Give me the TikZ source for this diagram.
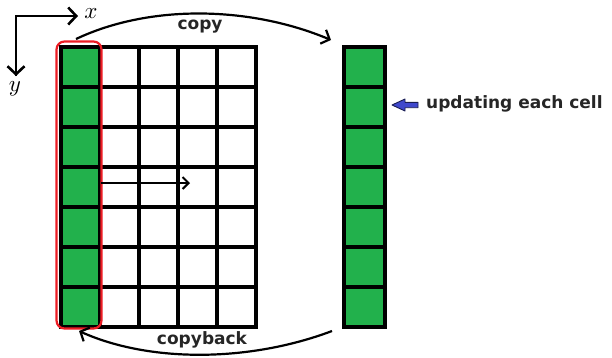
\documentclass[tikz,border=0pt]{standalone}
\usepackage{fontspec}
\usepackage{graphicx}
\setsansfont{DejaVu Sans}
\usetikzlibrary{arrows.meta}
\definecolor{cellgreen}{RGB}{34,177,76}
\definecolor{arrblue}{RGB}{63,72,204}
\definecolor{hlred}{RGB}{237,28,36}
\tikzset{
  cellbox/.style={draw=black, line width=3.8pt, minimum width=39pt, minimum height=40pt, inner sep=0pt, anchor=north west},
  greencell/.style={cellbox, fill=cellgreen},
  whitecell/.style={cellbox, fill=white},
  lbl/.style={font=\sffamily\bfseries\fontsize{17}{17}\selectfont, text=black!85, inner sep=0pt},
  conn/.style={line width=2.2pt, -{Straight Barb[length=7pt,width=15pt,line width=2.2pt]}},
  axis/.style={line width=2.6pt, -{Straight Barb[length=8pt,width=17pt,line width=2.6pt]}},
  axlbl/.style={inner sep=0pt}
}
\begin{document}
\begin{tikzpicture}[x=1pt,y=-1pt]
\useasboundingbox (0,0) rectangle (612,357);
% grid
\foreach \r in {0,...,6} {
  \node[greencell] (g\r) at (59,{45+40*\r}) {};
  \foreach \c in {1,...,4} {
    \node[whitecell] (w\r\c) at ({59+39*\c},{45+40*\r}) {};
  }
  \node[greencell, minimum width=41pt] (b\r) at (342,{45+40*\r}) {};
}
% red highlight
\node[draw=hlred, line width=2.2pt, rounded corners=8pt, minimum width=45pt, minimum height=287pt, inner sep=0pt] (hl) at (79,185) {};
% axes
\coordinate (o) at (16,16);
\coordinate (ox) at (78,16);
\coordinate (oy) at (16,76);
\draw[axis, line join=miter] (oy) -- (o) -- (ox);
\draw[axis] (o) -- (oy);
\node[axlbl] (xl) at (91,14) {\scalebox{2.3}{$x$}};
\node[axlbl] (yl) at (15,89) {\scalebox{2.3}{$y$}};
% copy arrows
\coordinate (cs) at (76,39);
\coordinate (ce) at (331,40);
\draw[conn] (cs) .. controls (150,4) and (250,6) .. (ce);
\node[lbl] (copy) at (200,27) {copy};
\coordinate (bs) at (332,331);
\coordinate (be) at (79,331);
\draw[conn] (bs) .. controls (250,362) and (150,363) .. (be);
\node[lbl] (cb) at (202,340) {copyback};
% inner arrow
\coordinate (ia) at (101,183);
\coordinate (ib) at (190,183);
\draw[line width=2pt, -{Straight Barb[length=6pt,width=12pt,line width=2pt]}] (ia) -- (ib);
% blue arrow
\draw[fill=arrblue, draw=black!60!arrblue, line width=0.9pt, line join=round]
  (392,105) -- (405,99) -- (405,102.3) -- (418,102.3) -- (418,107.7) -- (405,107.7) -- (405,111) -- cycle;
\node[lbl, anchor=west] (upd) at (426,104) {updating each cell};
\end{tikzpicture}
\end{document}
